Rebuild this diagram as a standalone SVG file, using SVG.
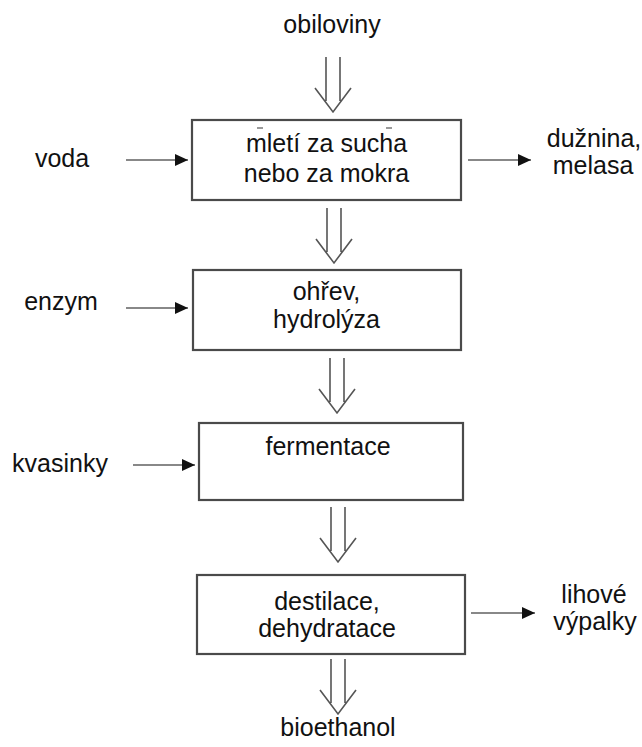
<svg xmlns="http://www.w3.org/2000/svg" width="642" height="747" viewBox="0 0 642 747">
<style>
  .box{fill:#fff;stroke:#4a4a4a;stroke-width:2.2}
  .t{font-family:"Liberation Sans",Arial,sans-serif;font-size:25px;fill:#111;text-anchor:middle}
  .dbl{fill:none;stroke:#555;stroke-width:1.6;stroke-linejoin:miter}
  .side{stroke:#888;stroke-width:1.8;fill:none}
  .tick{stroke:#777;stroke-width:1.5}
</style>
<defs>
  <marker id="ah" markerWidth="14" markerHeight="12" refX="13" refY="6" orient="auto" markerUnits="userSpaceOnUse">
    <path d="M0,0 L13,6 L0,12 Z" fill="#111"/>
  </marker>
  <g id="darrow">
    <path class="dbl" d="M-7,-55 V-11 M7,-55 V-11 M-18,-24 L0,0 L18,-24"/>
  </g>
</defs>

<rect width="642" height="747" fill="#fff"/>

<g id="connectors">
  <use href="#darrow" x="333" y="112"/>
  <use href="#darrow" x="334" y="263"/>
  <use href="#darrow" x="337" y="413"/>
  <use href="#darrow" x="338" y="562"/>
  <use href="#darrow" x="338" y="714"/>
  <line class="side" x1="126" y1="160" x2="188" y2="160" marker-end="url(#ah)"/>
  <line class="side" x1="126" y1="308" x2="188" y2="308" marker-end="url(#ah)"/>
  <line class="side" x1="133" y1="465" x2="195" y2="465" marker-end="url(#ah)"/>
  <line class="side" x1="468" y1="160" x2="531" y2="160" marker-end="url(#ah)"/>
  <line class="side" x1="471" y1="613" x2="535" y2="613" marker-end="url(#ah)"/>
</g>

<g id="obiloviny"><text class="t" x="332" y="33">obiloviny</text></g>

<g id="mleti">
  <rect class="box" x="192" y="120" width="269" height="80"/>
  <line class="tick" x1="257" y1="128" x2="263" y2="128"/>
  <line class="tick" x1="386" y1="128" x2="392" y2="128"/>
  <text class="t" x="326.5" y="152">mletí za sucha</text>
  <text class="t" x="326.5" y="182">nebo za mokra</text>
</g>

<g id="ohrev">
  <rect class="box" x="193" y="270" width="268" height="80"/>
  <text class="t" x="326.5" y="300">ohřev,</text>
  <text class="t" x="326.5" y="328">hydrolýza</text>
</g>

<g id="fermentace">
  <rect class="box" x="199" y="423" width="264" height="77"/>
  <text class="t" x="328" y="455">fermentace</text>
</g>

<g id="destilace">
  <rect class="box" x="197" y="575" width="268" height="79"/>
  <text class="t" x="327" y="610">destilace,</text>
  <text class="t" x="327" y="637">dehydratace</text>
</g>

<g id="voda"><text class="t" x="62" y="167">voda</text></g>
<g id="enzym"><text class="t" x="61" y="310">enzym</text></g>
<g id="kvasinky"><text class="t" x="60" y="472">kvasinky</text></g>
<g id="duznina">
  <text class="t" x="594" y="147">dužnina,</text>
  <text class="t" x="593" y="174">melasa</text>
</g>
<g id="lihove">
  <text class="t" x="594" y="603">lihové</text>
  <text class="t" x="595" y="630">výpalky</text>
</g>
<g id="bioethanol"><text class="t" x="338" y="736">bioethanol</text></g>
</svg>
